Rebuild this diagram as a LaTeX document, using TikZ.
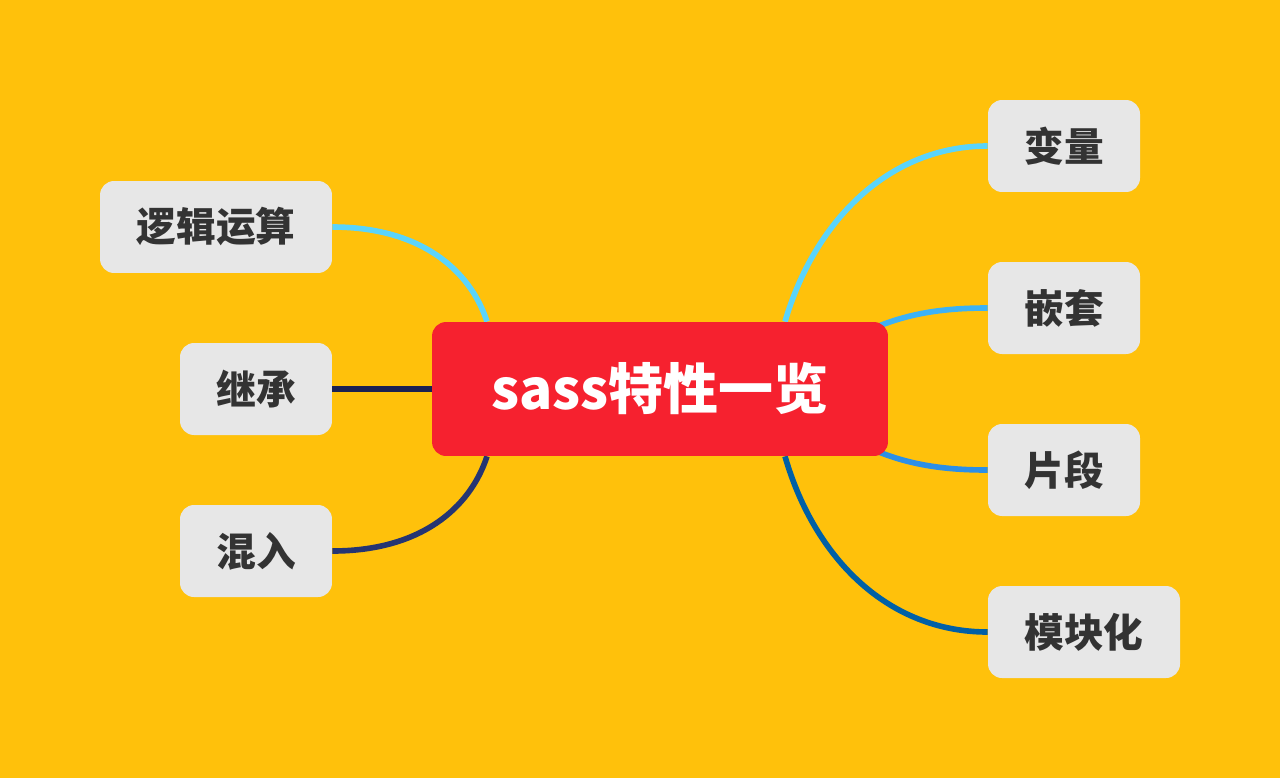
\documentclass[tikz,border=0pt]{standalone}
\usepackage{fontspec}
\newfontfamily\cjk{Noto Sans CJK SC}
\usetikzlibrary{calc}
\definecolor{bgyellow}{HTML}{FFC10B}
\definecolor{hubred}{HTML}{F6212F}
\definecolor{boxgray}{HTML}{E7E7E7}
\definecolor{txtgray}{HTML}{333333}
\definecolor{lcyan}{HTML}{5BD4FB}
\definecolor{lsky}{HTML}{3DB2F5}
\definecolor{lblue}{HTML}{2C8FE6}
\definecolor{ldeep}{HTML}{0060A6}
\definecolor{lnavy}{HTML}{1A2152}
\definecolor{lindigo}{HTML}{263572}
\pgfdeclarelayer{back}
\pgfdeclarelayer{links}
\pgfsetlayers{back,links,main}
\tikzset{
  hub/.style={fill=hubred, rounded corners=0.28cm, minimum width=9.12cm, minimum height=2.68cm, inner sep=0pt, text=white, font=\cjk\bfseries\fontsize{31.3pt}{32pt}\selectfont},
  leaf/.style={fill=boxgray, rounded corners=0.28cm, minimum width=3.04cm, minimum height=1.84cm, inner sep=0pt, text=txtgray, font=\cjk\bfseries\fontsize{22.6pt}{24pt}\selectfont},
  link/.style={line width=3.2pt}
}
\begin{document}
\begin{tikzpicture}[x=0.02cm,y=-0.02cm]
\begin{pgfonlayer}{back}
\fill[bgyellow] (0,0) rectangle (1280,778);
\end{pgfonlayer}
\useasboundingbox (0,0) rectangle (1280,778);
\node[hub] (c) at (660,389) {sass特性一览};
\node[leaf] (v) at (1064,146) {变量};
\node[leaf] (q) at (1064,308) {嵌套};
\node[leaf] (p) at (1064,470) {片段};
\node[leaf, minimum width=3.84cm] (m) at (1084,632) {模块化};
\node[leaf, minimum width=4.64cm] (l) at (216,227) {逻辑运算};
\node[leaf] (j) at (256,389) {继承};
\node[leaf] (h) at (256,551) {混入};
\begin{pgfonlayer}{links}
\draw[link, lcyan] ($(c.north)+(125,0)$) .. controls +(30,-102) and +(-98,0) .. (v.west);
\draw[link, lsky] ($(c.north east)+(-18,8)$) .. controls +(40,-18) and +(-38,0) .. (q.west);
\draw[link, lblue] ($(c.south east)+(-18,-8)$) .. controls +(40,18) and +(-38,0) .. (p.west);
\draw[link, ldeep] ($(c.south)+(125,0)$) .. controls +(30,104) and +(-98,0) .. (m.west);
\draw[link, lcyan] ($(c.north)+(-173,0)$) .. controls +(-17,-52) and +(88,0) .. (l.east);
\draw[link, lnavy] (j.east) -- (c.west);
\draw[link, lindigo] ($(c.south)+(-173,0)$) .. controls +(-17,52) and +(88,0) .. (h.east);
\end{pgfonlayer}
\end{tikzpicture}
\end{document}
